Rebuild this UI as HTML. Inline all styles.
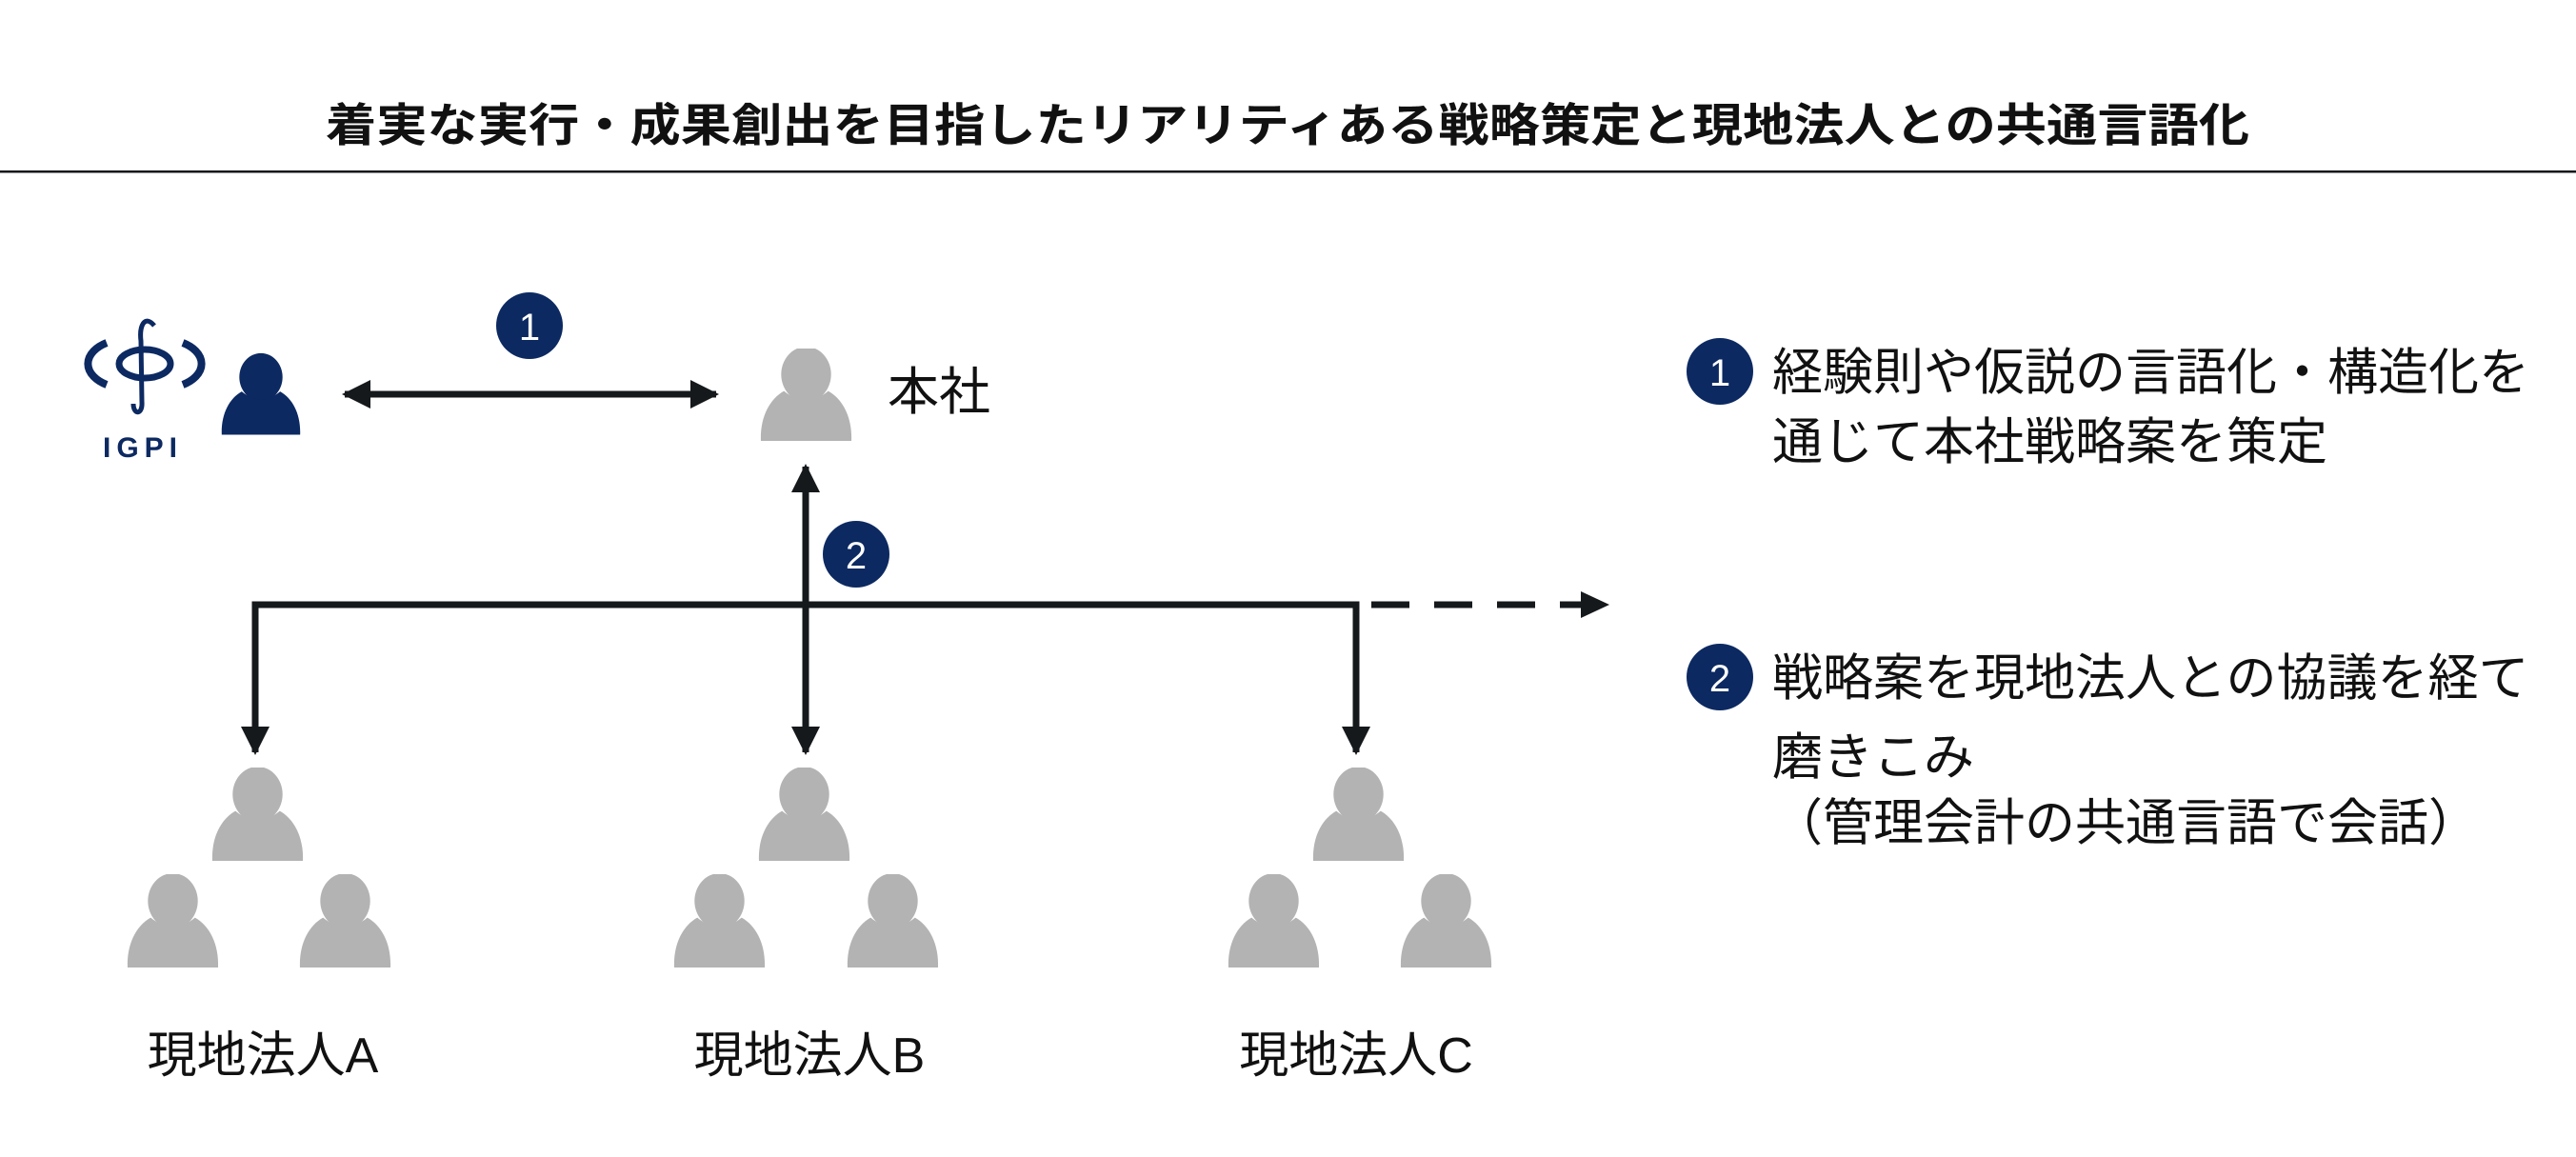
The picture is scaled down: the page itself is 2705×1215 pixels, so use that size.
<!DOCTYPE html>
<html><head><meta charset="utf-8"><style>
html,body{margin:0;padding:0;background:#fff;}
svg{display:block}
text{font-family:"Liberation Sans","Noto Sans CJK JP",sans-serif;fill:#111;}
</style></head><body>
<svg width="2705" height="1215" viewBox="0 0 2705 1215" xmlns="http://www.w3.org/2000/svg">
<defs>
<symbol id="p" viewBox="0 0 100 100">
<ellipse cx="50" cy="28" rx="27" ry="30"/>
<path d="M1,100 C0,75 10,55 26,46 Q50,66 74,46 C90,55 100,75 99,100 Z"/>
</symbol>
<marker id="ah" viewBox="0 0 10 10" refX="9" refY="5" markerWidth="4.3" markerHeight="4.3" orient="auto-start-reverse" markerUnits="strokeWidth"><path d="M0,0 L10,5 L0,10 Z" fill="#15191c"/></marker>
</defs>
<text x="1352" y="148" font-size="48" font-weight="bold" text-anchor="middle" textLength="2020" lengthAdjust="spacingAndGlyphs">着実な実行・成果創出を目指したリアリティある戦略策定と現地法人との共通言語化</text>
<rect x="0" y="179" width="2705" height="2.5" fill="#15191c"/>

<!-- IGPI logo -->
<g fill="none" stroke="#0c2961">
<path d="M112,360 A42,26 0 0 0 112,404" stroke-width="8"/>
<path d="M192,360 A42,26 0 0 1 192,404" stroke-width="8"/>
<ellipse cx="152" cy="382" rx="27" ry="15" stroke-width="7"/>
<path d="M162,342 C152,330 146,342 148,358 L149,422 C150,436 140,436 140,424" stroke-width="5"/>
</g>
<text x="150" y="480" font-size="30" font-weight="bold" text-anchor="middle" style="fill:#0c2961" letter-spacing="6">IGPI</text>
<use href="#p" x="232" y="366" width="84" height="97" fill="#0c2961" preserveAspectRatio="none"/>

<!-- arrow 1 -->
<line x1="362" y1="414" x2="752" y2="414" stroke="#15191c" stroke-width="7" marker-start="url(#ah)" marker-end="url(#ah)"/>
<circle cx="556" cy="342" r="35" fill="#0c2961"/>
<text x="556" y="357" font-size="40" text-anchor="middle" style="fill:#fff">1</text>

<!-- HQ -->
<use href="#p" x="797" y="366" width="99" height="97" fill="#b3b3b3" preserveAspectRatio="none"/>
<text x="932" y="430" font-size="54">本社</text>

<!-- tree -->
<line x1="846" y1="635" x2="846" y2="490" stroke="#15191c" stroke-width="7" marker-end="url(#ah)"/>
<circle cx="899" cy="582" r="35" fill="#0c2961"/>
<text x="899" y="597" font-size="40" text-anchor="middle" style="fill:#fff">2</text>
<path d="M268,790 V635 H1424 V790" fill="none" stroke="#15191c" stroke-width="7"/>
<line x1="268" y1="640" x2="268" y2="790" stroke="#15191c" stroke-width="7" marker-end="url(#ah)"/>
<line x1="846" y1="635" x2="846" y2="790" stroke="#15191c" stroke-width="7" marker-end="url(#ah)"/>
<line x1="1424" y1="640" x2="1424" y2="790" stroke="#15191c" stroke-width="7" marker-end="url(#ah)"/>
<line x1="1440" y1="635" x2="1660" y2="635" stroke="#15191c" stroke-width="7" stroke-dasharray="40,26"/>
<path d="M1660,621 L1690,635 L1660,649 Z" fill="#15191c"/>

<!-- groups -->
<g fill="#b3b3b3">
<use href="#p" x="222" y="806" width="97" height="99" preserveAspectRatio="none"/>
<use href="#p" x="133" y="918" width="97" height="99" preserveAspectRatio="none"/>
<use href="#p" x="314" y="918" width="97" height="99" preserveAspectRatio="none"/>
<use href="#p" x="796" y="806" width="97" height="99" preserveAspectRatio="none"/>
<use href="#p" x="707" y="918" width="97" height="99" preserveAspectRatio="none"/>
<use href="#p" x="889" y="918" width="97" height="99" preserveAspectRatio="none"/>
<use href="#p" x="1378" y="806" width="97" height="99" preserveAspectRatio="none"/>
<use href="#p" x="1289" y="918" width="97" height="99" preserveAspectRatio="none"/>
<use href="#p" x="1470" y="918" width="97" height="99" preserveAspectRatio="none"/>
</g>
<text x="276" y="1126" font-size="52" text-anchor="middle">現地法人A</text>
<text x="850" y="1126" font-size="52" text-anchor="middle">現地法人B</text>
<text x="1424" y="1126" font-size="52" text-anchor="middle">現地法人C</text>

<!-- right notes -->
<circle cx="1806" cy="390" r="35" fill="#0c2961"/>
<text x="1806" y="405" font-size="40" text-anchor="middle" style="fill:#fff">1</text>
<text x="1861" y="409" font-size="53">経験則や仮説の言語化・構造化を</text>
<text x="1861" y="482" font-size="53">通じて本社戦略案を策定</text>
<circle cx="1806" cy="711" r="35" fill="#0c2961"/>
<text x="1806" y="726" font-size="40" text-anchor="middle" style="fill:#fff">2</text>
<text x="1861" y="730" font-size="53">戦略案を現地法人との協議を経て</text>
<text x="1861" y="813" font-size="53">磨きこみ</text>
<text x="1861" y="882" font-size="53">（管理会計の共通言語で会話）</text>
</svg>
</body></html>
